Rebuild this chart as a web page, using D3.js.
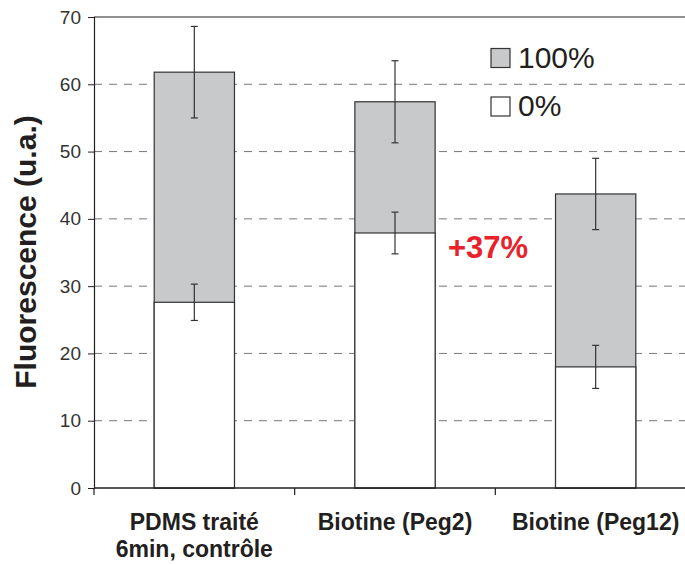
<!DOCTYPE html>
<html><head><meta charset="utf-8">
<script src="https://cdn.jsdelivr.net/npm/d3@7"></script>
<style>body{margin:0;background:#fff}svg{display:block;font-family:"Liberation Sans",Arial,sans-serif}</style>
</head><body><svg id="c" width="685" height="565"></svg>
<script>
const categories = [["PDMS traité","6min, contrôle"],["Biotine (Peg2)"],["Biotine (Peg12)"]];
const val100 = [61.8, 57.4, 43.7];
const err100 = [6.8, 6.1, 5.3];
const val0 = [27.6, 37.9, 18.0];
const err0 = [2.7, 3.1, 3.2];
const yTicks = [0,10,20,30,40,50,60,70];
const legendLabels = ["100%","0%"];
const annotation = "+37%";

const svg = d3.select("#c");
const L = 94, R = 696, T = 17, B = 488;
const ids = categories.map((d,i)=>i);
const x = d3.scaleBand().domain(ids).range([L,R]).padding(0);
const y = d3.scaleLinear().domain([0,70]).range([B,T]);
const bw = x.bandwidth()*0.4;
const ink = "#231f20";

// gridlines
svg.append("g").selectAll("line").data(yTicks.filter(t=>t>0&&t<70)).join("line")
  .attr("x1",L).attr("x2",685).attr("y1",d=>y(d)).attr("y2",d=>y(d))
  .attr("stroke","#777").attr("stroke-width",1).attr("stroke-dasharray","8,7");
// top line
svg.append("line").attr("x1",L).attr("x2",685).attr("y1",y(70)).attr("y2",y(70)).attr("stroke",ink).attr("stroke-width",1.2);

// bars 100%
svg.append("g").selectAll("rect").data(ids).join("rect")
  .attr("x",i=>x(i)+x.bandwidth()/2-bw/2).attr("width",bw)
  .attr("y",i=>y(val100[i])).attr("height",i=>B-y(val100[i]))
  .attr("fill","#c8c9cb").attr("stroke","#333").attr("stroke-width",1.2);
// bars 0%
svg.append("g").selectAll("rect").data(ids).join("rect")
  .attr("x",i=>x(i)+x.bandwidth()/2-bw/2).attr("width",bw)
  .attr("y",i=>y(val0[i])).attr("height",i=>B-y(val0[i]))
  .attr("fill","#fff").attr("stroke","#333").attr("stroke-width",1.2);

function errs(vals, errsArr){
  const g = svg.append("g").attr("stroke","#333").attr("stroke-width",1.2);
  ids.forEach(i=>{
    const cx = x(i)+x.bandwidth()/2;
    const hi = y(vals[i]+errsArr[i]), lo = y(vals[i]-errsArr[i]);
    g.append("line").attr("x1",cx).attr("x2",cx).attr("y1",hi).attr("y2",lo);
    g.append("line").attr("x1",cx-3.5).attr("x2",cx+3.5).attr("y1",hi).attr("y2",hi);
    g.append("line").attr("x1",cx-3.5).attr("x2",cx+3.5).attr("y1",lo).attr("y2",lo);
  });
}
errs(val100, err100);
errs(val0, err0);

// y axis
const ya = svg.append("g").attr("transform",`translate(${L},0)`)
  .call(d3.axisLeft(y).tickValues(yTicks).tickSize(6).tickPadding(7));
ya.select(".domain").attr("stroke",ink).attr("stroke-width",1.2);
ya.selectAll(".tick line").attr("stroke",ink);
ya.selectAll("text").attr("font-size",19).attr("fill","#333").attr("font-family","Liberation Sans, Arial");
// x axis
svg.append("line").attr("x1",L).attr("x2",685).attr("y1",B).attr("y2",B).attr("stroke",ink).attr("stroke-width",1.4);
const bounds = ids.map(i=>x(i));
svg.append("g").selectAll("line").data(bounds).join("line")
  .attr("x1",d=>d).attr("x2",d=>d).attr("y1",B).attr("y2",B+7).attr("stroke",ink).attr("stroke-width",1.2);

// category labels
const cl = svg.append("g").attr("font-weight","bold").attr("font-size",23).attr("fill",ink).attr("text-anchor","middle");
ids.forEach(i=>{
  const t = cl.append("text").attr("x",x(i)+x.bandwidth()/2).attr("y",530);
  categories[i].forEach((s,j)=>t.append("tspan").attr("x",x(i)+x.bandwidth()/2).attr("dy",j?27:0).text(s));
});

// y title
svg.append("text").attr("transform","translate(36,252) rotate(-90)").attr("text-anchor","middle")
  .attr("font-weight","bold").attr("font-size",30).attr("fill",ink).text("Fluorescence (u.a.)");

// legend
const fills = ["#c8c9cb","#fff"];
legendLabels.forEach((s,j)=>{
  const yy = 48.5 + j*48.5;
  svg.append("rect").attr("x",491).attr("y",yy).attr("width",19).attr("height",19)
    .attr("fill",fills[j]).attr("stroke","#333").attr("stroke-width",1.2);
  svg.append("text").attr("x",518).attr("y",yy+19).attr("font-size",30).attr("fill",ink).text(s);
});

// annotation
svg.append("text").attr("x",448).attr("y",258).attr("font-size",31).attr("font-weight","bold")
  .attr("fill","#e8222b").text(annotation);
</script></body></html>
